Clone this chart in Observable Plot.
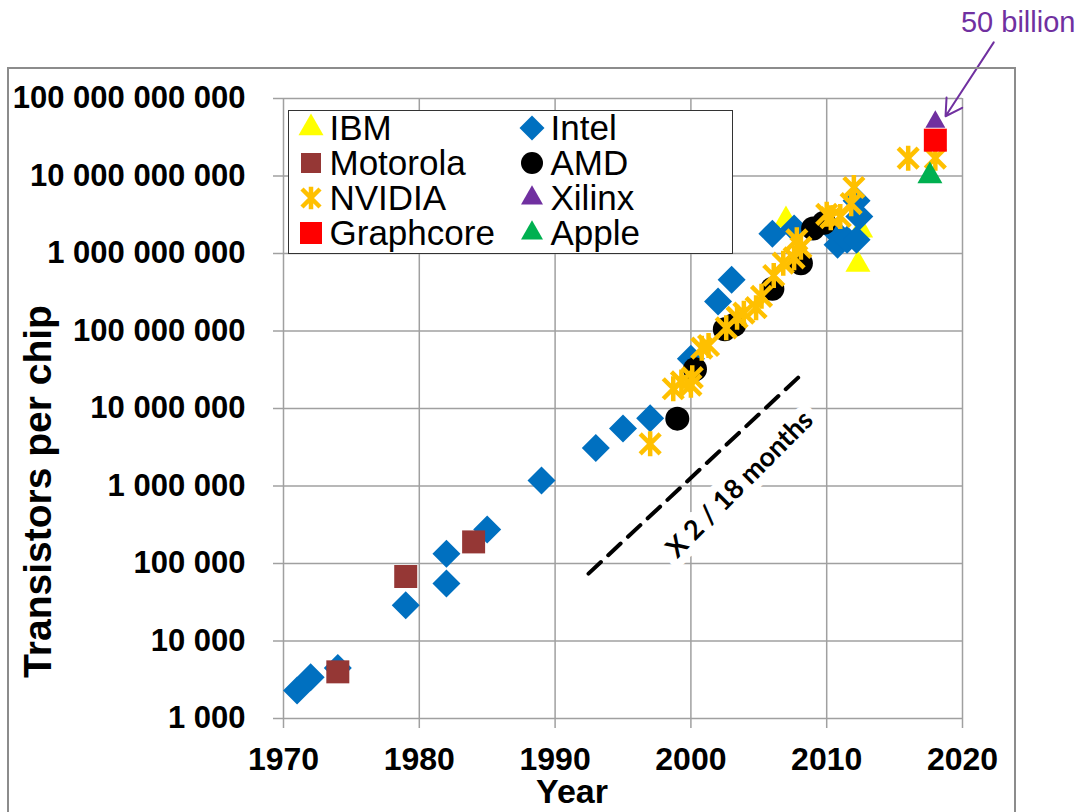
<!DOCTYPE html>
<html>
<head>
<meta charset="utf-8">
<script src="https://cdn.jsdelivr.net/npm/d3@7"></script>
<script src="https://cdn.jsdelivr.net/npm/@observablehq/plot@0.6"></script>
<style>
  html, body { margin: 0; padding: 0; background: #fff; }
  #wrap { position: relative; width: 1084px; height: 812px; overflow: hidden; font-family: "Liberation Sans", Arial, sans-serif; }
  #frame { position: absolute; left: 7px; top: 67px; width: 1009px; height: 800px; border: 2.5px solid #8c8c8c; box-sizing: border-box; pointer-events: none; }
  #legend { position: absolute; left: 288px; top: 110px; width: 445px; height: 144px; border: 1.5px solid #333; background: #fff; box-sizing: border-box; }
  #legend .lab { position: absolute; height: 34px; line-height: 34px; font-size: 35px; color: #000; white-space: nowrap; }
  #legend svg { position: absolute; overflow: visible; }
</style>
</head>
<body>
<div id="wrap"></div>
<script>
// ---------------- data ----------------
const xTicks = [1970, 1980, 1990, 2000, 2010, 2020];
const yTicks = [1e3, 1e4, 1e5, 1e6, 1e7, 1e8, 1e9, 1e10, 1e11];

const ibm = [[2007, 2.7e9], [2012.3, 7.2e8], [2012.5, 2.0e9]];
const motorola = [[1974, 4000], [1979, 68000], [1984, 190000]];
const nvidia = [
  [1997, 3.5e6], [1998.7, 1.8e7], [1999.3, 2.2e7], [2000, 2.0e7], [2000.1, 2.5e7],
  [2000.8, 6.0e7], [2001.3, 6.5e7], [2002.6, 1.1e8], [2003.4, 1.5e8], [2003.9, 1.7e8],
  [2004.8, 2.0e8], [2005.2, 2.8e8], [2006.1, 5.2e8], [2006.8, 7.5e8], [2007.6, 8.8e8],
  [2007.8, 1.5e9], [2008.1, 1.2e9], [2010, 3.2e9], [2010.3, 2.9e9], [2011, 3.0e9],
  [2011.8, 4.4e9], [2012, 7.1e9], [2016, 1.7e10], [2018, 1.7e10]
];
const graphcore = [[2018, 2.9e10]];
const intel = [
  [1971, 2300], [1972, 3400], [1974, 4500], [1979, 29000], [1982, 134000], [1982, 55000],
  [1985, 275000], [1989, 1180000], [1993, 3100000], [1995, 5500000], [1997, 7500000],
  [2000, 4.4e7], [2002, 2.4e8], [2003, 4.6e8], [2006, 1.8e9], [2007.6, 2.1e9],
  [2010.5, 2.0e9], [2010.8, 1.3e9], [2011.5, 1.5e9], [2012.2, 1.5e9], [2012.2, 4.8e9], [2012.4, 3.0e9]
];
const amd = [
  [1999, 7.4e6], [2000.3, 3.2e7], [2002.5, 1.05e8], [2003.2, 1.2e8], [2006, 3.5e8],
  [2008.1, 7.5e8], [2009, 2.1e9], [2009.8, 2.5e9]
];
const xilinx = [[2018, 5.0e10]];
const apple = [[2017.6, 1.0e10]];

const trend = [[1992.46, 7.4e4], [2008.07, 2.67e7]];
const trendLabel = [[2003.6, 1.05e6, "X 2 / 18 months"]];
const note = [[2024.1, 9.6e11, "50 billion"]];
const noteArrow = [[2022.3, 5.3e11, 2018.75, 5.9e10]];

// ---------------- symbols ----------------
const rOf = s => Math.sqrt(s / Math.PI);
const sym = {
  diamond: {draw(c, s) { const r = rOf(s); c.moveTo(0, -r); c.lineTo(r, 0); c.lineTo(0, r); c.lineTo(-r, 0); c.closePath(); }},
  square: {draw(c, s) { const r = rOf(s); c.rect(-r, -r, 2 * r, 2 * r); }},
  circle: {draw(c, s) { const r = rOf(s); c.moveTo(r, 0); c.arc(0, 0, r, 0, 2 * Math.PI); }},
  triangle: {draw(c, s) { const r = rOf(s), h = 1.75 * r; c.moveTo(0, -2 * h / 3); c.lineTo(r, h / 3); c.lineTo(-r, h / 3); c.closePath(); }},
  star: {draw(c, s) { const r = rOf(s); c.moveTo(-r, -r); c.lineTo(r, r); c.moveTo(-r, r); c.lineTo(r, -r); c.moveTo(0, -1.25 * r); c.lineTo(0, 1.25 * r); }}
};

const series = {
  IBM:       {data: ibm,       shape: "triangle", color: "#FFFF00", r: 12.5},
  Motorola:  {data: motorola,  shape: "square",   color: "#953735", r: 11.5},
  NVIDIA:    {data: nvidia,    shape: "star",     color: "#FFC000", r: 10, line: true},
  Graphcore: {data: graphcore, shape: "square",   color: "#FF0000", r: 11.5},
  Intel:     {data: intel,     shape: "diamond",  color: "#0070C0", r: 14},
  AMD:       {data: amd,       shape: "circle",   color: "#000000", r: 12},
  Xilinx:    {data: xilinx,    shape: "triangle", color: "#7030A0", r: 10},
  Apple:     {data: apple,     shape: "triangle", color: "#00B050", r: 12.5}
};
const legendOrder = ["IBM", "Intel", "Motorola", "AMD", "NVIDIA", "Xilinx", "Graphcore", "Apple"];
const drawOrder = ["IBM", "Intel", "Motorola", "AMD", "NVIDIA", "Apple", "Xilinx", "Graphcore"];

const fmt = d => d3.format(",")(d).replace(/,/g, " ");
const grid = "#a0a0a0";

const dotMarks = drawOrder.map(name => {
  const s = series[name];
  return Plot.dot(s.data, {
    x: d => d[0], y: d => d[1], r: s.r, symbol: sym[s.shape],
    fill: s.line ? "none" : s.color,
    stroke: s.line ? s.color : "none",
    strokeWidth: s.line ? 4.5 : 0
  });
});

const chart = Plot.plot({
  width: 1084, height: 812,
  marginLeft: 283, marginRight: 122, marginTop: 98, marginBottom: 94,
  x: {domain: [1970, 2020]},
  y: {type: "log", domain: [1e3, 1e11]},
  style: {fontFamily: "'Liberation Sans', Arial, sans-serif", background: "transparent", color: "#000"},
  marks: [
    Plot.gridX(xTicks, {stroke: grid, strokeOpacity: 1, strokeWidth: 1.5}),
    Plot.gridY(yTicks, {stroke: grid, strokeOpacity: 1, strokeWidth: 1.5}),
    Plot.axisX(xTicks, {tickSize: 10, tickPadding: 19, tickFormat: d => String(d), fontSize: 32, fontWeight: "bold", stroke: grid, strokeWidth: 1.5, fill: "#000", label: null}),
    Plot.axisY(yTicks, {tickSize: 10, tickPadding: 28, tickFormat: fmt, fontSize: 31, fontWeight: "bold", stroke: grid, strokeWidth: 1.5, fill: "#000", label: null}),
    Plot.text(trendLabel, {x: d => d[0], y: d => d[1], text: d => d[2], rotate: -45, fontSize: 27, fontWeight: "bold", fontFamily: "Lato, 'Open Sans', sans-serif", fill: "#000", stroke: "#fff", strokeWidth: 16}),
    Plot.line(trend, {x: d => d[0], y: d => d[1], stroke: "#000", strokeWidth: 4, strokeDasharray: "17,10"}),
    ...dotMarks,
    Plot.text(note, {x: d => d[0], y: d => d[1], text: d => d[2], fontSize: 29, fill: "#7030A0"}),
    Plot.arrow(noteArrow, {x1: d => d[0], y1: d => d[1], x2: d => d[2], y2: d => d[3], stroke: "#7030A0", strokeWidth: 2, headLength: 14}),
    Plot.text(["Transistors per chip"], {frameAnchor: "left", textAnchor: "middle", lineAnchor: "middle", rotate: -90, dx: -245, dy: 83, fontSize: 39, fontWeight: "bold", fill: "#000"}),
    Plot.text(["Year"], {frameAnchor: "bottom", textAnchor: "middle", lineAnchor: "middle", dx: -51, dy: 74, fontSize: 34, fontWeight: "bold", fill: "#000"})
  ]
});

const wrap = document.getElementById("wrap");
wrap.appendChild(chart);

// legend
const legend = document.createElement("div");
legend.id = "legend";
wrap.appendChild(legend);
const rowY = [18, 53, 88, 123];
const colIcon = [23, 244];
const colText = [42, 263];
legendOrder.forEach((name, i) => {
  const s = series[name];
  const col = i % 2, row = Math.floor(i / 2);
  const svg = d3.select(legend).append("svg")
    .attr("width", 30).attr("height", 30)
    .style("left", (colIcon[col] - 15 - 1.5) + "px")
    .style("top", (rowY[row] - 15 - 1.5) + "px");
  const lr = {IBM: 12.5, Intel: 12.5, Motorola: 10, AMD: 11, NVIDIA: 9, Xilinx: 11, Graphcore: 11, Apple: 11}[name];
  svg.append("path")
    .attr("transform", "translate(15,15)")
    .attr("d", d3.symbol().type(sym[s.shape]).size(Math.PI * lr * lr)())
    .attr("fill", s.line ? "none" : s.color)
    .attr("stroke", s.line ? s.color : "none")
    .attr("stroke-width", s.line ? 4.5 : 0);
  const lab = document.createElement("div");
  lab.className = "lab";
  lab.textContent = name;
  lab.style.left = (colText[col] - 1.5) + "px";
  lab.style.top = (rowY[row] - 17 - 1.5) + "px";
  legend.appendChild(lab);
});

const frame = document.createElement("div");
frame.id = "frame";
wrap.appendChild(frame);
</script>
</body>
</html>
